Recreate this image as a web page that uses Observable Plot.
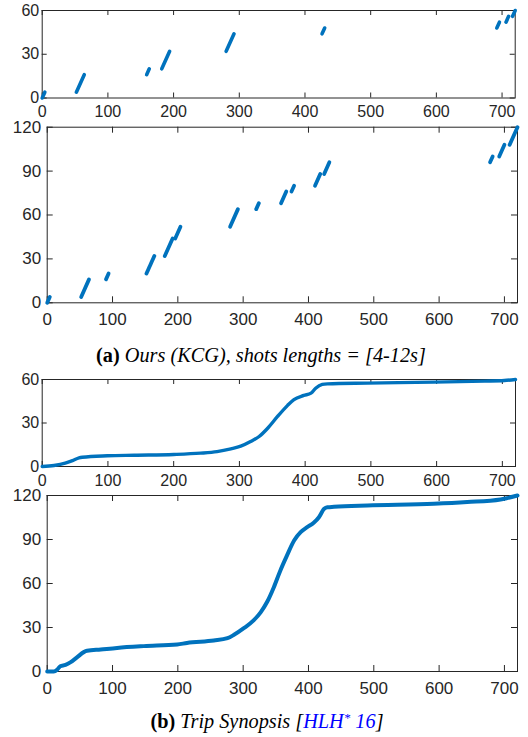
<!DOCTYPE html>
<html>
<head>
<meta charset="utf-8">
<script src="https://cdn.jsdelivr.net/npm/d3@7"></script>
<script src="https://cdn.jsdelivr.net/npm/@observablehq/plot@0.6"></script>
<style>
  html, body { margin: 0; padding: 0; background: #fff; }
  #root { position: relative; width: 528px; height: 737px; overflow: hidden; background: #fff; }
  .panel { position: absolute; left: 0; }
  #captions { position: absolute; left: 0; top: 0; pointer-events: none; }
</style>
</head>
<body>
<div id="root"></div>
<script>
// ---------- tick labels ----------
const xTicks = [0, 100, 200, 300, 400, 500, 600, 700];
const yTicks60 = [0, 30, 60];
const yTicks120 = [0, 30, 60, 90, 120];

// ---------- (a) Ours (KCG): shots, 60 s output ----------
const kcg60InStart  = [0, 52, 159, 182, 280, 426, 692, 706, 716];
const kcg60InEnd    = [4, 64, 163, 194, 292, 430, 696, 710, 720];
const kcg60OutStart = [0, 4, 16, 20, 32, 44, 48, 52, 56];
const kcg60OutEnd   = [4, 16, 20, 32, 44, 48, 52, 56, 60];

// ---------- (a) Ours (KCG): shots, 120 s output ----------
const kcg120InStart  = [0, 52, 90, 152, 180, 196, 280, 320, 358, 374, 410, 424, 678, 692, 708];
const kcg120InEnd    = [4, 64, 94, 164, 192, 204, 292, 324, 366, 378, 418, 432, 682, 700, 720];
const kcg120OutStart = [0, 4, 16, 20, 32, 44, 52, 64, 68, 76, 80, 88, 96, 100, 108];
const kcg120OutEnd   = [4, 16, 20, 32, 44, 52, 64, 68, 76, 80, 88, 96, 100, 108, 120];

// ---------- (b) Trip Synopsis: 60 s output ----------
const trip60X = [0, 18, 35, 46, 56, 61, 99, 140, 200, 241, 266, 287, 302, 317, 330, 343, 358, 373, 383, 398, 409, 416, 426, 434, 495, 596, 673, 703, 720];
const trip60Y = [0, 0.7, 2.3, 4.1, 6, 6.4, 7.4, 7.8, 8.3, 9.2, 10.3, 12.2, 14, 17.2, 20.7, 26.4, 34.5, 42, 46.2, 49, 50.6, 54, 56.6, 57, 57.5, 58.2, 58.9, 59.3, 60];

// ---------- (b) Trip Synopsis: 120 s output ----------
const trip120X = [0, 10, 15, 20, 28, 36, 46, 56, 61, 82, 107, 148, 199, 214, 255, 276, 286, 301, 316, 327, 337, 347, 357, 367, 378, 388, 398, 408, 416, 424, 429, 439, 490, 592, 643, 694, 704, 720];
const trip120Y = [0, 0, 1.1, 3.6, 4.5, 6.4, 9.8, 13.2, 14.1, 15, 16.1, 17.3, 18.4, 19.5, 21.1, 22.7, 25, 29.5, 34.8, 40.5, 47.7, 57.5, 68.9, 79, 89.3, 95, 98.4, 101.4, 105.2, 110.9, 112, 112.3, 113.2, 114.3, 115.5, 117.3, 118.2, 120];

const BLUE = "#0072BD";
const INK = "#262626";

const shots = (a, b, c, d) => a.map((v, i) => ({x1: v, x2: b[i], y1: c[i], y2: d[i]}));
const curve = (xs, ys) => xs.map((v, i) => ({x: v, y: ys[i]}));

function makePanel(o) {
  const W = 528;
  const iw = W - o.ml - o.mr;
  const H = o.mt + o.ih + o.mb;
  const chart = Plot.plot({
    width: W, height: H,
    marginLeft: o.ml, marginRight: o.mr, marginTop: o.mt, marginBottom: o.mb,
    style: {fontFamily: "'Liberation Sans', Arial, sans-serif", fontSize: o.fs + "px", color: INK, background: "transparent", overflow: "visible"},
    x: {domain: [0, 720]},
    y: {domain: [0, o.yMax]},
    marks: [
      Plot.ruleX(xTicks, {x: d => d, stroke: INK, strokeWidth: 1, insetTop: o.ih - o.tick}),
      Plot.ruleX(xTicks, {x: d => d, stroke: INK, strokeWidth: 1, insetBottom: o.ih - o.tick}),
      Plot.ruleY(o.yTicks, {y: d => d, stroke: INK, strokeWidth: 1, insetRight: iw - o.tick}),
      Plot.ruleY(o.yTicks, {y: d => d, stroke: INK, strokeWidth: 1, insetLeft: iw - o.tick}),
      Plot.frame({stroke: INK, strokeWidth: 1}),
      Plot.axisX(xTicks, {tickSize: 0, tickPadding: o.xpad, fontSize: o.fs, fill: INK, label: null}),
      Plot.axisY(o.yTicks, {tickSize: 0, tickPadding: o.ypad, fontSize: o.fs, fill: INK, label: null}),
      ...o.marks
    ]
  });
  const div = document.createElement("div");
  div.className = "panel";
  div.style.top = o.top + "px";
  div.appendChild(chart);
  document.getElementById("root").appendChild(div);
}

// Panel (a) top
makePanel({
  top: 0, ml: 41.7, mr: 13.3, mt: 10, ih: 87.5, mb: 24,
  yMax: 60, yTicks: yTicks60, fs: 16, ypad: 3, xpad: 8, tick: 5,
  marks: [Plot.link(shots(kcg60InStart, kcg60InEnd, kcg60OutStart, kcg60OutEnd),
    {x1: "x1", x2: "x2", y1: "y1", y2: "y2", stroke: BLUE, strokeWidth: 3.6, strokeLinecap: "round"})]
});

// Panel (a) bottom
makePanel({
  top: 116, ml: 46.7, mr: 11, mt: 10.7, ih: 175.6, mb: 28,
  yMax: 120, yTicks: yTicks120, fs: 17, ypad: 6, xpad: 10, tick: 6,
  marks: [Plot.link(shots(kcg120InStart, kcg120InEnd, kcg120OutStart, kcg120OutEnd),
    {x1: "x1", x2: "x2", y1: "y1", y2: "y2", stroke: BLUE, strokeWidth: 3.8, strokeLinecap: "round"})]
});

// Panel (b) top
makePanel({
  top: 369, ml: 41.7, mr: 13, mt: 10, ih: 87, mb: 26,
  yMax: 60, yTicks: yTicks60, fs: 16, ypad: 3, xpad: 8, tick: 5,
  marks: [Plot.line(curve(trip60X, trip60Y),
    {x: "x", y: "y", stroke: BLUE, strokeWidth: 3.4, curve: "monotone-x", strokeLinecap: "round"})]
});

// Panel (b) bottom
makePanel({
  top: 485, ml: 46.7, mr: 11, mt: 10, ih: 176, mb: 28,
  yMax: 120, yTicks: yTicks120, fs: 17, ypad: 6, xpad: 10, tick: 6,
  marks: [Plot.line(curve(trip120X, trip120Y),
    {x: "x", y: "y", stroke: BLUE, strokeWidth: 4, curve: "monotone-x", strokeLinecap: "round"})]
});

// Captions
const svg = d3.select("#root").append("svg")
  .attr("id", "captions").attr("width", 528).attr("height", 737);
const capA = svg.append("text").attr("x", 261).attr("y", 362)
  .attr("text-anchor", "middle").attr("font-family", "'Liberation Serif', 'Times New Roman', serif")
  .attr("font-size", 20.3).attr("fill", "#000");
capA.append("tspan").attr("font-weight", "bold").text("(a)");
capA.append("tspan").attr("font-style", "italic").text(" Ours (KCG), shots lengths = [4-12s]");

const capB = svg.append("text").attr("x", 267).attr("y", 728)
  .attr("text-anchor", "middle").attr("font-family", "'Liberation Serif', 'Times New Roman', serif")
  .attr("font-size", 20.3).attr("fill", "#000");
capB.append("tspan").attr("font-weight", "bold").text("(b)");
capB.append("tspan").attr("font-style", "italic").text(" Trip Synopsis [");
capB.append("tspan").attr("font-style", "italic").attr("fill", "#0000ff").text("HLH");
capB.append("tspan").attr("font-style", "italic").attr("fill", "#0000ff").attr("dy", -6).attr("font-size", 13).text("*");
capB.append("tspan").attr("font-style", "italic").attr("fill", "#0000ff").attr("dy", 6).text(" 16");
capB.append("tspan").attr("font-style", "italic").text("]");
</script>
</body>
</html>
